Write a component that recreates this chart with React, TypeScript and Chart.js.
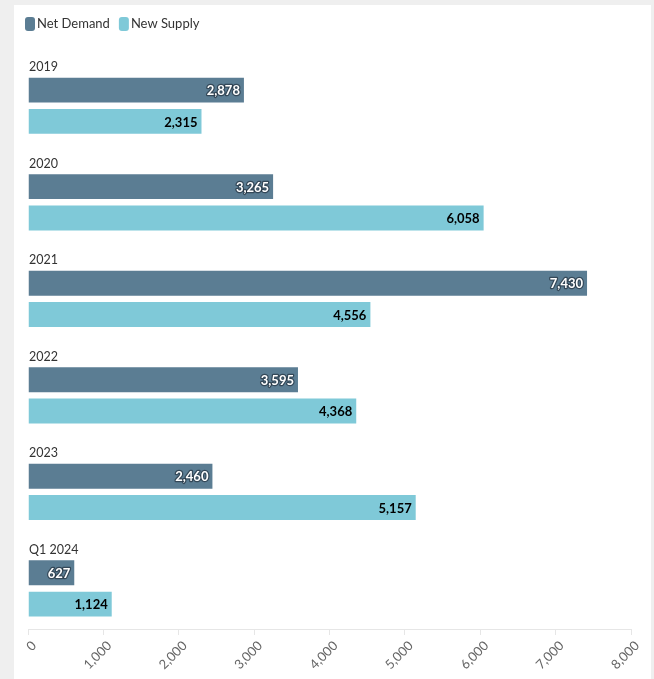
import React, { useEffect, useRef } from "react";
import { Chart, registerables } from "chart.js";

Chart.register(...registerables);

const categories = ["2019", "2020", "2021", "2022", "2023", "Q1 2024"];
const netDemand = [2878, 3265, 7430, 3595, 2460, 627];
const newSupply = [2315, 6058, 4556, 4368, 5157, 1124];
const xTickValues = [0, 1000, 2000, 3000, 4000, 5000, 6000, 7000, 8000];
const seriesNames = ["Net Demand", "New Supply"];
const seriesColors = ["#5b7d93", "#7fc9d8"];

const FONT = "Lato, 'Open Sans', sans-serif";

const overlayPlugin = {
  id: "overlay",
  afterDatasetsDraw(chart: any) {
    const ctx = chart.ctx as CanvasRenderingContext2D;
    ctx.save();
    const series = [netDemand, newSupply];
    // value labels
    chart.data.datasets.forEach((_ds: any, di: number) => {
      const meta = chart.getDatasetMeta(di);
      meta.data.forEach((el: any, i: number) => {
        const v = series[di][i];
        const txt = v.toLocaleString("en-US");
        ctx.font = `bold 13px ${FONT}`;
        ctx.textAlign = "right";
        ctx.textBaseline = "middle";
        const x = el.x - 5;
        const y = el.y + 1;
        if (di === 0) {
          ctx.lineJoin = "round";
          ctx.lineWidth = 2.5;
          ctx.strokeStyle = "rgba(20,30,40,0.55)";
          ctx.strokeText(txt, x, y);
          ctx.fillStyle = "#ffffff";
        } else {
          ctx.fillStyle = "#000000";
        }
        ctx.fillText(txt, x, y);
      });
    });
    // category labels
    const yScale = chart.scales.y;
    ctx.font = `12.5px ${FONT}`;
    ctx.fillStyle = "#333333";
    ctx.textAlign = "left";
    ctx.textBaseline = "middle";
    categories.forEach((c, i) => {
      const y = yScale.getPixelForValue(i) - 38.5;
      ctx.fillText(c, chart.chartArea.left + 1, y);
    });
    // legend
    let lx = 11;
    const ly = 19;
    ctx.font = `13px ${FONT}`;
    seriesNames.forEach((name, i) => {
      ctx.fillStyle = seriesColors[i];
      ctx.beginPath();
      (ctx as any).roundRect(lx, ly - 7, 10, 14, 3);
      ctx.fill();
      ctx.fillStyle = "#333333";
      ctx.textAlign = "left";
      ctx.textBaseline = "middle";
      ctx.fillText(name, lx + 12, ly);
      lx += 12 + ctx.measureText(name).width + 9;
    });
    ctx.restore();
  },
};

export default function App() {
  const canvasRef = useRef<HTMLCanvasElement | null>(null);

  useEffect(() => {
    if (!canvasRef.current) return;
    const chart = new Chart(canvasRef.current, {
      type: "bar",
      data: {
        datasets: [
          {
            label: seriesNames[0],
            data: categories.map((_, i) => ({ x: netDemand[i], y: i })),
            backgroundColor: seriesColors[0],
            borderColor: "rgba(255,255,255,0.35)",
            borderWidth: 1,
          },
          {
            label: seriesNames[1],
            data: categories.map((_, i) => ({ x: newSupply[i], y: i })),
            backgroundColor: seriesColors[1],
            borderColor: "rgba(255,255,255,0.35)",
            borderWidth: 1,
          },
        ],
      } as any,
      options: {
        indexAxis: "y",
        responsive: false,
        animation: false,
        categoryPercentage: 0.648,
        barPercentage: 0.86,
        layout: { padding: { left: 14, right: 20, top: 52.5, bottom: 0 } },
        plugins: {
          legend: { display: false },
          tooltip: { enabled: false },
        },
        scales: {
          y: {
            type: "linear",
            reverse: true,
            offset: false,
            min: -0.5,
            max: 5.42,
            display: false,
            grid: { offset: false },
            afterBuildTicks: (scale: any) => {
              scale.ticks = categories.map((_, i) => ({ value: i }));
            },
          },
          x: {
            type: "linear",
            min: 0,
            max: 8000,
            afterBuildTicks: (scale: any) => {
              scale.ticks = xTickValues.map((v) => ({ value: v }));
            },
            afterFit: (scale: any) => {
              scale.height = 50;
            },
            ticks: {
              autoSkip: false,
              minRotation: 45,
              maxRotation: 45,
              color: "#666666",
              font: { family: FONT, size: 13 },
              padding: 3,
              labelOffset: 6,
              callback: (v: any) => Number(v).toLocaleString("en-US"),
            },
            grid: {
              drawOnChartArea: false,
              drawTicks: true,
              tickLength: 6,
              color: "#e6e6e6",
            },
            border: { color: "#e6e6e6", width: 1 },
          },
        },
      } as any,
      plugins: [overlayPlugin],
    });
    return () => chart.destroy();
  }, []);

  return (
    <div
      style={{
        position: "fixed",
        left: 0,
        top: 0,
        width: 654,
        height: 679,
        background: "#efefef",
        overflow: "hidden",
      }}
    >
      <div
        style={{
          position: "absolute",
          left: 14,
          top: 5,
          width: 637,
          height: 674,
          background: "#ffffff",
        }}
      >
        <canvas
          ref={canvasRef}
          width={637}
          height={674}
          style={{ display: "block", width: 637, height: 674 }}
        />
      </div>
    </div>
  );
}
